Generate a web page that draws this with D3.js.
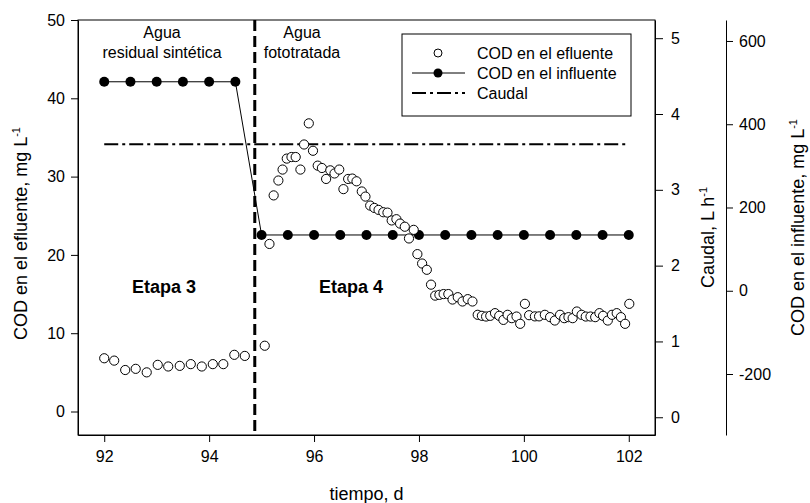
<!DOCTYPE html>
<html>
<head>
<meta charset="utf-8">
<script src="https://cdn.jsdelivr.net/npm/d3@7"></script>
<style>
  body { margin: 0; background: #fff; }
  svg text { font-family: "Liberation Sans", Arial, sans-serif; fill: #000; }
</style>
</head>
<body>
<svg id="chart" width="810" height="503"></svg>
<script>
// effluent COD (mg/L), left axis
var effTime = [92.00, 92.19, 92.40, 92.60, 92.81, 93.02, 93.22, 93.44, 93.65, 93.86, 94.07, 94.27, 94.48, 94.68,
  95.06, 95.15, 95.23, 95.32, 95.40, 95.48, 95.57, 95.65, 95.74, 95.81, 95.90, 95.98, 96.07, 96.15, 96.23, 96.31,
  96.39, 96.48, 96.56, 96.65, 96.73, 96.81, 96.91, 96.98, 97.07, 97.15, 97.23, 97.32, 97.40, 97.48, 97.57, 97.64,
  97.73, 97.81, 97.90, 97.97, 98.06, 98.15, 98.23, 98.31, 98.39, 98.47, 98.56, 98.64, 98.74, 98.83, 98.93, 99.02,
  99.12, 99.20, 99.28, 99.36, 99.45, 99.53, 99.61, 99.69, 99.77, 99.86, 99.93, 100.02, 100.10, 100.21, 100.29,
  100.40, 100.50, 100.59, 100.69, 100.77, 100.85, 100.93, 101.01, 101.10, 101.18, 101.27, 101.36, 101.44, 101.51,
  101.60, 101.68, 101.77, 101.85, 101.93, 102.01];
var effCOD = [6.8, 6.5, 5.3, 5.45, 5.0, 5.96, 5.75, 5.83, 6.05, 5.75, 6.05, 6.05, 7.24, 7.1,
  8.4, 21.4, 27.6, 29.5, 30.9, 32.3, 32.5, 32.5, 30.9, 34.1, 36.8, 33.3, 31.4, 31.1, 29.7, 30.8,
  30.4, 30.9, 28.4, 29.7, 29.75, 29.4, 28.1, 27.45, 26.3, 26.0, 25.75, 25.45, 25.4, 24.4, 24.56, 24.0,
  23.6, 22.1, 23.2, 20.1, 18.9, 18.1, 16.2, 14.8, 14.9, 15.0, 15.0, 14.3, 14.6, 14.05, 14.35, 14.05,
  12.35, 12.22, 12.13, 12.22, 12.56, 12.22, 11.7, 12.35, 11.92, 12.13, 11.2, 13.75, 12.3, 12.15, 12.15,
  12.35, 12.05, 11.62, 12.35, 11.92, 12.05, 11.92, 12.77, 12.35, 12.13, 12.13, 12.05, 12.56, 12.22,
  11.62, 12.35, 12.56, 12.05, 11.2, 13.75];

// influent COD (mg/L), outer right axis
var infTime = [92, 92.5, 93, 93.5, 94, 94.5, 95, 95.5, 96, 96.5, 97, 97.5, 98, 98.5, 99, 99.5, 100, 100.5, 101, 101.5, 102];
var infCOD = [502, 502, 502, 502, 502, 502, 134, 134, 134, 134, 134, 134, 134, 134, 134, 134, 134, 134, 134, 134, 134];

// caudal (L/h), inner right axis
var flowTime = [92, 102];
var flowVal = [3.6, 3.6];

var stageChange = 94.87;

var xTicks = [92, 94, 96, 98, 100, 102];
var yTicks = [0, 10, 20, 30, 40, 50];
var flowTicks = [0, 1, 2, 3, 4, 5];
var infTicks = [-200, 0, 200, 400, 600];

var legendLabels = ["COD en el efluente", "COD en el influente", "Caudal"];

var pLeft = 78, pRight = 655, pTop = 20, pBottom = 435;

var svg = d3.select("#chart");

var x = d3.scaleLinear().domain([91.5, 102.5]).range([pLeft, pRight]);
var y = d3.scaleLinear().domain([-3, 50]).range([pBottom, pTop]);
var yFlow = d3.scaleLinear().domain([-0.234, 5.24]).range([pBottom, pTop]);
var yInf = d3.scaleLinear().domain([-346.5, 650.4]).range([pBottom, pTop]);

var plain = function(d) { return String(d); };

function styleAxis(g) {
  g.selectAll("path, line").attr("stroke", "#000").attr("stroke-width", 1);
  g.selectAll("text").attr("font-size", 16).attr("fill", "#000")
    .style("font-family", '"Liberation Sans", Arial, sans-serif');
}

// axes
svg.append("g").attr("transform", "translate(" + pLeft + ",0)")
  .call(d3.axisLeft(y).tickValues(yTicks).tickFormat(plain).tickSize(7).tickSizeOuter(0).tickPadding(6))
  .call(styleAxis);

svg.append("g").attr("transform", "translate(0," + pBottom + ")")
  .call(d3.axisBottom(x).tickValues(xTicks).tickFormat(plain).tickSize(7).tickSizeOuter(0).tickPadding(9))
  .call(styleAxis);

svg.append("g").attr("transform", "translate(" + pRight + ",0)")
  .call(d3.axisRight(yFlow).tickValues(flowTicks).tickFormat(plain).tickSize(8).tickSizeOuter(0).tickPadding(8))
  .call(styleAxis);

svg.append("g").attr("transform", "translate(726,0)")
  .call(d3.axisRight(yInf).tickValues(infTicks).tickFormat(plain).tickSize(7).tickSizeOuter(0).tickPadding(6))
  .call(styleAxis);

// frame
svg.append("rect")
  .attr("x", pLeft).attr("y", pTop)
  .attr("width", pRight - pLeft).attr("height", pBottom - pTop)
  .attr("fill", "none").attr("stroke", "#000").attr("stroke-width", 1);

// axis titles
svg.append("text")
  .attr("transform", "translate(27," + ((pTop + pBottom) / 2 + 6) + ") rotate(-90)")
  .attr("text-anchor", "middle").attr("font-size", 18)
  .html('COD en el efluente, mg L<tspan dy="-7" font-size="11">-1</tspan>');

svg.append("text")
  .attr("transform", "translate(714," + ((pTop + pBottom) / 2 + 10) + ") rotate(-90)")
  .attr("text-anchor", "middle").attr("font-size", 18)
  .html('Caudal, L h<tspan dy="-7" font-size="11">-1</tspan>');

svg.append("text")
  .attr("transform", "translate(804," + ((pTop + pBottom) / 2) + ") rotate(-90)")
  .attr("text-anchor", "middle").attr("font-size", 18)
  .html('COD en el influente, mg L<tspan dy="-7" font-size="11">-1</tspan>');

svg.append("text")
  .attr("x", (pLeft + pRight) / 2).attr("y", 500)
  .attr("text-anchor", "middle").attr("font-size", 18)
  .text("tiempo, d");

// stage separator
svg.append("line")
  .attr("x1", x(stageChange)).attr("x2", x(stageChange))
  .attr("y1", pTop).attr("y2", pBottom)
  .attr("stroke", "#000").attr("stroke-width", 3)
  .attr("stroke-dasharray", "11,5");

// caudal line
var flowData = flowTime.map(function(t, i) { return [t, flowVal[i]]; });
svg.append("path")
  .datum(flowData)
  .attr("d", d3.line().x(function(d) { return x(d[0]); }).y(function(d) { return yFlow(d[1]); }))
  .attr("fill", "none").attr("stroke", "#000").attr("stroke-width", 2)
  .attr("stroke-dasharray", "14,4,3,4");

// influent line + points
var infData = infTime.map(function(t, i) { return [t, infCOD[i]]; });
svg.append("path")
  .datum(infData)
  .attr("d", d3.line().x(function(d) { return x(d[0]); }).y(function(d) { return yInf(d[1]); }))
  .attr("fill", "none").attr("stroke", "#000").attr("stroke-width", 1);

svg.append("g").selectAll("circle")
  .data(infData).enter().append("circle")
  .attr("cx", function(d) { return x(d[0]); })
  .attr("cy", function(d) { return yInf(d[1]); })
  .attr("r", 5).attr("fill", "#000");

// effluent points
var effData = effTime.map(function(t, i) { return [t, effCOD[i]]; });
svg.append("g").selectAll("circle")
  .data(effData).enter().append("circle")
  .attr("cx", function(d) { return x(d[0]); })
  .attr("cy", function(d) { return y(d[1]); })
  .attr("r", 4.6).attr("fill", "#fff").attr("stroke", "#000").attr("stroke-width", 1);

// annotations
function note(txt, cx, cy, size, weight) {
  svg.append("text").attr("x", cx).attr("y", cy)
    .attr("text-anchor", "middle").attr("font-size", size)
    .attr("font-weight", weight || "normal").text(txt);
}
note("Agua", 162, 38, 16);
note("residual sintética", 162, 58, 16);
note("Agua", 302, 38, 16);
note("fototratada", 302, 58, 16);
note("Etapa 3", 164, 293, 18, "bold");
note("Etapa 4", 351, 293, 18, "bold");

// legend
var lg = svg.append("g");
lg.append("rect").attr("x", 402).attr("y", 34).attr("width", 229).attr("height", 82)
  .attr("fill", "#fff").attr("stroke", "#000").attr("stroke-width", 1);
var rows = [53, 73, 93];
lg.append("circle").attr("cx", 438).attr("cy", rows[0]).attr("r", 4)
  .attr("fill", "#fff").attr("stroke", "#000");
lg.append("line").attr("x1", 412).attr("x2", 465).attr("y1", rows[1]).attr("y2", rows[1])
  .attr("stroke", "#000");
lg.append("circle").attr("cx", 438).attr("cy", rows[1]).attr("r", 4.5).attr("fill", "#000");
lg.append("line").attr("x1", 412).attr("x2", 465).attr("y1", rows[2]).attr("y2", rows[2])
  .attr("stroke", "#000").attr("stroke-width", 2).attr("stroke-dasharray", "14,4,3,4");
lg.selectAll("text.lbl").data(legendLabels).enter().append("text")
  .attr("class", "lbl")
  .attr("x", 477).attr("y", function(d, i) { return rows[i] + 5.5; })
  .attr("font-size", 16).text(function(d) { return d; });
</script>
</body>
</html>
